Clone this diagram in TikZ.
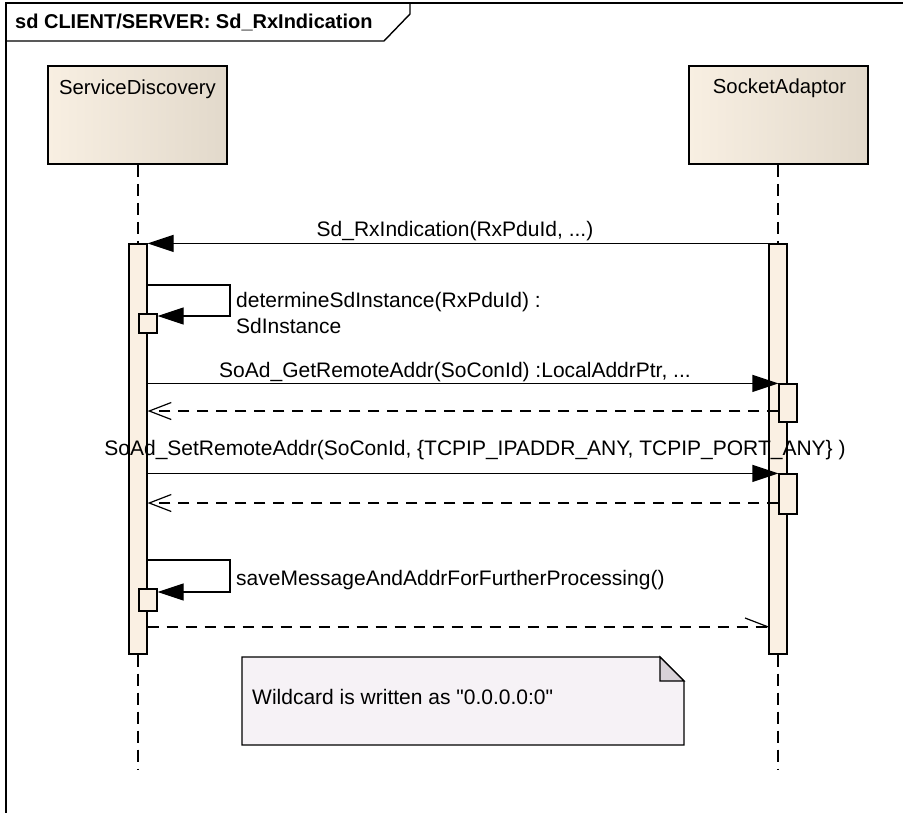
\documentclass[tikz,border=0pt]{standalone}
\usepackage{fontspec}
\setmainfont{Liberation Sans}
\usetikzlibrary{arrows.meta}
\definecolor{headL}{HTML}{F8EFE2}
\definecolor{headR}{HTML}{E2D9CB}
\definecolor{barF}{HTML}{FAF0E3}
\definecolor{noteF}{HTML}{F6F2F6}
\definecolor{foldF}{HTML}{D8D2D8}
\begin{document}
\begin{tikzpicture}[x=1pt,y=-1pt,
  every node/.style={font=\fontsize{21}{25}\selectfont},
  head/.style={draw, line width=1.6pt, left color=headL, middle color=headL, right color=headR,
    minimum width=179pt, minimum height=98pt, inner sep=0pt},
  headtxt/.style={inner sep=0pt, anchor=base, font=\fontsize{20.3}{24}\selectfont},
  bar/.style={draw, line width=1.2pt, fill=barF, minimum width=18pt, inner sep=0pt},
  lifeline/.style={line width=1.2pt, dash pattern=on 12pt off 7pt},
  msg/.style={line width=1.2pt, -{Triangle[length=26pt,width=17pt]}},
  ret/.style={line width=1.2pt, dash pattern=on 11pt off 8pt, -{Straight Barb[length=22pt,width=17pt,line width=1.2pt]}},
  retplain/.style={line width=1.2pt, dash pattern=on 11pt off 8pt},
  lbl/.style={inner sep=0pt},
]
\useasboundingbox (0,0) rectangle (903,812);
\clip (0,0) rectangle (903,812);
% frame
\draw[line width=1.8pt] (6,3) rectangle (930,840);
\draw[line width=1.4pt] (6,41) -- (384,41) -- (410,14) -- (410,3);
\node[lbl, anchor=base west, font=\fontsize{20}{24}\selectfont\bfseries] (title) at (15,28) {sd CLIENT/SERVER: Sd\_RxIndication};

% lifeline heads
\node[head] (sdHead) at (137.5,115) {};
\node[headtxt] (sdHeadTxt) at (137.5,94) {ServiceDiscovery};
\node[head] (saHead) at (778.5,115) {};
\node[headtxt] (saHeadTxt) at (779.5,93) {SocketAdaptor};

% activation bars
\node[bar, minimum height=410pt] (sdBar) at (138,449) {};
\node[bar, minimum height=410pt] (saBar) at (778,449) {};

% lifelines
\coordinate (sdEnd) at (138,770);
\coordinate (saEnd) at (778,770);
\draw[lifeline] (sdHead.south -| sdBar.north) -- (sdBar.north);
\draw[lifeline] (saHead.south -| saBar.north) -- (saBar.north);
\draw[lifeline] (sdBar.south) -- (sdEnd);
\draw[lifeline] (saBar.south) -- (saEnd);

% nested bars
\node[bar, minimum height=38pt] (sa1) at (788,403) {};
\node[bar, minimum height=40pt] (sa2) at (788,494) {};
\node[bar, minimum height=19pt, minimum width=18pt] (sd1) at (148,323.5) {};
\node[bar, minimum height=22pt, minimum width=18pt] (sd2) at (148,600) {};

% message 1
\draw[msg] (saBar.north west) -- (sdBar.north east);
\node[lbl, anchor=base] (m1lbl) at (455,236) {Sd\_RxIndication(RxPduId, ...)};

% self message 1
\coordinate (s1top) at (0,285);
\coordinate (s1right) at (230,0);
\coordinate (s1bot) at (0,316);
\draw[msg] (sdBar.east |- s1top) -| (s1right |- s1bot) -- (sd1.east |- s1bot);
\node[lbl, anchor=base west] (s1lbl) at (236,307) {determineSdInstance(RxPduId) :};
\node[lbl, anchor=base west] (s1lbl2) at (236,333) {SdInstance};

% message 3
\draw[msg] (sdBar.east |- sa1.north) -- (sa1.north west);
\node[lbl, anchor=base] (m3lbl) at (455,377) {SoAd\_GetRemoteAddr(SoConId) :LocalAddrPtr, ...};
\coordinate (r3) at (0,411);
\draw[ret] (sa1.west |- r3) -- (sdBar.east |- r3);

% message 5
\node[lbl, anchor=base] (m5lbl) at (475,455) {SoAd\_SetRemoteAddr(SoConId, \{TCPIP\_IPADDR\_ANY, TCPIP\_PORT\_ANY\} )};
\draw[msg] (sdBar.east |- sa2.north) -- (sa2.north west);
\coordinate (r5) at (0,503);
\draw[ret] (sa2.west |- r5) -- (sdBar.east |- r5);

% self message 2
\coordinate (s2top) at (0,560);
\coordinate (s2bot) at (0,592);
\draw[msg] (sdBar.east |- s2top) -| (s1right |- s2bot) -- (sd2.east |- s2bot);
\node[lbl, anchor=base west] (s2lbl) at (236,585) {saveMessageAndAddrForFurtherProcessing()};

% async return
\coordinate (r7) at (0,627);
\coordinate (r7barb) at (745,618);
\draw[retplain] (sdBar.east |- r7) -- (saBar.west |- r7);
\draw[line width=1.2pt] (saBar.west |- r7) -- (r7barb);

% note
\draw[line width=1.2pt, fill=noteF] (242,657) -- (660,657) -- (684,681) -- (684,745) -- (242,745) -- cycle;
\draw[line width=1.2pt, fill=foldF] (660,657) -- (660,681) -- (684,681) -- cycle;
\node[lbl, anchor=base west] (note) at (252,704) {Wildcard is written as \textquotedbl 0.0.0.0:0\textquotedbl};
\end{tikzpicture}
\end{document}
